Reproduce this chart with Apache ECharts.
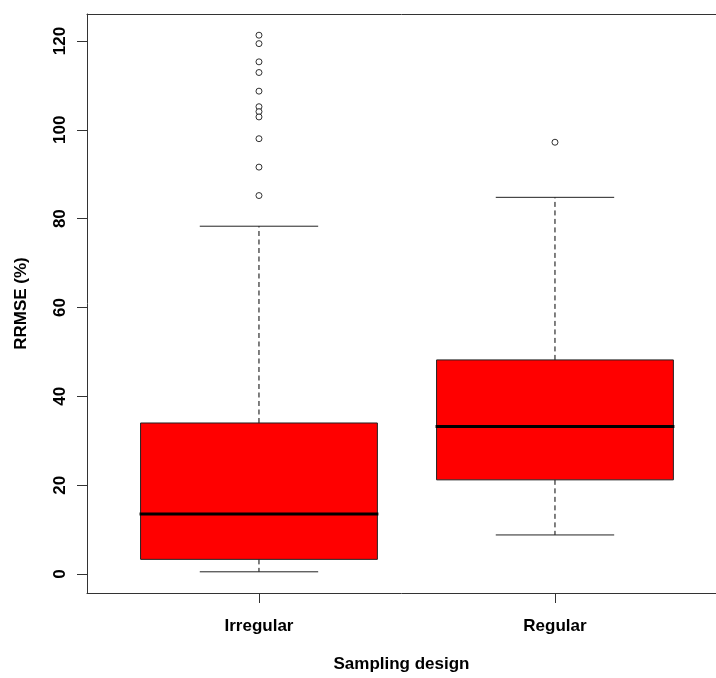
<!DOCTYPE html>
<html>
<head>
<meta charset="utf-8">
<script src="https://cdn.jsdelivr.net/npm/echarts@6/dist/echarts.min.js"></script>
<style>html,body{margin:0;padding:0;background:#fff}#c{width:716px;height:678px}</style>
</head>
<body>
<div id="c"></div>
<script>
var categories = ['Irregular', 'Regular'];
var lowerWhisker = [0.5, 8.8];
var q1 = [3.3, 21.2];
var median = [13.5, 33.2];
var q3 = [34.0, 48.2];
var upperWhisker = [78.3, 84.8];
var outliersIrregular = [121.3, 119.4, 115.3, 112.9, 108.7, 105.2, 104.1, 102.9, 98.0, 91.6, 85.2];
var outliersRegular = [97.2];
var yTicks = [0, 20, 40, 60, 80, 100, 120];

var boxData = categories.map(function (c, i) {
  return [i + 1, lowerWhisker[i], q1[i], median[i], q3[i], upperWhisker[i]];
});
var outlierData = [];
outliersIrregular.forEach(function (v) { outlierData.push([1, v]); });
outliersRegular.forEach(function (v) { outlierData.push([2, v]); });

var FONT = 'Liberation Sans';
var frameLine = {show: true, onZero: false, lineStyle: {color: '#333', width: 1}};
var chart = echarts.init(document.getElementById('c'), null, {renderer: 'canvas'});
chart.setOption({
  backgroundColor: '#fff',
  animation: false,
  grid: {left: 87, top: 14, bottom: 84, right: 0, show: false},
  xAxis: [{
    type: 'value', min: 0.419, max: 2.544, position: 'bottom',
    axisLine: frameLine,
    splitLine: {show: false},
    axisTick: {show: true, customValues: [1, 2], length: 10, lineStyle: {color: '#333'}},
    axisLabel: {customValues: [1, 2], margin: 25, color: '#000', fontFamily: FONT, fontWeight: 'bold', fontSize: 17,
      formatter: function (v) { return categories[Math.round(v) - 1]; }},
    name: 'Sampling design', nameLocation: 'middle', nameGap: 63,
    nameTextStyle: {color: '#000', fontFamily: FONT, fontWeight: 'bold', fontSize: 17}
  }, {
    type: 'value', min: 0.419, max: 2.544, position: 'top',
    axisLine: frameLine,
    splitLine: {show: false}, axisTick: {show: false}, axisLabel: {show: false}
  }],
  yAxis: {
    type: 'value', min: -4.27, max: 126.07,
    axisLine: frameLine,
    splitLine: {show: false},
    axisTick: {show: true, customValues: yTicks, length: 10, lineStyle: {color: '#333'}},
    axisLabel: {customValues: yTicks, rotate: 90, margin: 18, color: '#000', fontFamily: FONT, fontWeight: 'bold', fontSize: 17},
    name: 'RRMSE (%)', nameLocation: 'middle', nameGap: 57,
    nameTextStyle: {color: '#000', fontFamily: FONT, fontWeight: 'bold', fontSize: 17}
  },
  series: [
    {
      type: 'custom',
      data: boxData,
      encode: {x: 0, y: [1, 2, 3, 4, 5]},
      renderItem: function (params, api) {
        var x = api.value(0);
        var pLo = api.coord([x, api.value(1)]);
        var pQ1 = api.coord([x, api.value(2)]);
        var pMed = api.coord([x, api.value(3)]);
        var pQ3 = api.coord([x, api.value(4)]);
        var pHi = api.coord([x, api.value(5)]);
        var halfBox = api.size([0.4, 0])[0];
        var halfCap = api.size([0.2, 0])[0];
        var cx = pMed[0];
        var dash = {stroke: '#000', lineWidth: 1, lineDash: [5, 3.5]};
        var solid = {stroke: '#222', lineWidth: 1};
        return {
          type: 'group',
          children: [
            {type: 'line', shape: {x1: cx, y1: pQ3[1], x2: cx, y2: pHi[1]}, style: dash},
            {type: 'line', shape: {x1: cx, y1: pQ1[1], x2: cx, y2: pLo[1]}, style: dash},
            {type: 'line', shape: {x1: cx - halfCap, y1: pHi[1], x2: cx + halfCap, y2: pHi[1]}, style: solid},
            {type: 'line', shape: {x1: cx - halfCap, y1: pLo[1], x2: cx + halfCap, y2: pLo[1]}, style: solid},
            {type: 'rect', shape: {x: cx - halfBox, y: pQ3[1], width: 2 * halfBox, height: pQ1[1] - pQ3[1]},
              style: {fill: '#ff0000', stroke: '#222', lineWidth: 1}},
            {type: 'line', shape: {x1: cx - halfBox - 1, y1: pMed[1], x2: cx + halfBox + 1, y2: pMed[1]},
              style: {stroke: '#000', lineWidth: 3}}
          ]
        };
      },
      z: 2
    },
    {
      type: 'scatter',
      data: outlierData,
      symbol: 'circle',
      symbolSize: 6,
      itemStyle: {color: '#fff', borderColor: '#000', borderWidth: 1},
      z: 3
    }
  ]
});
</script>
</body>
</html>
